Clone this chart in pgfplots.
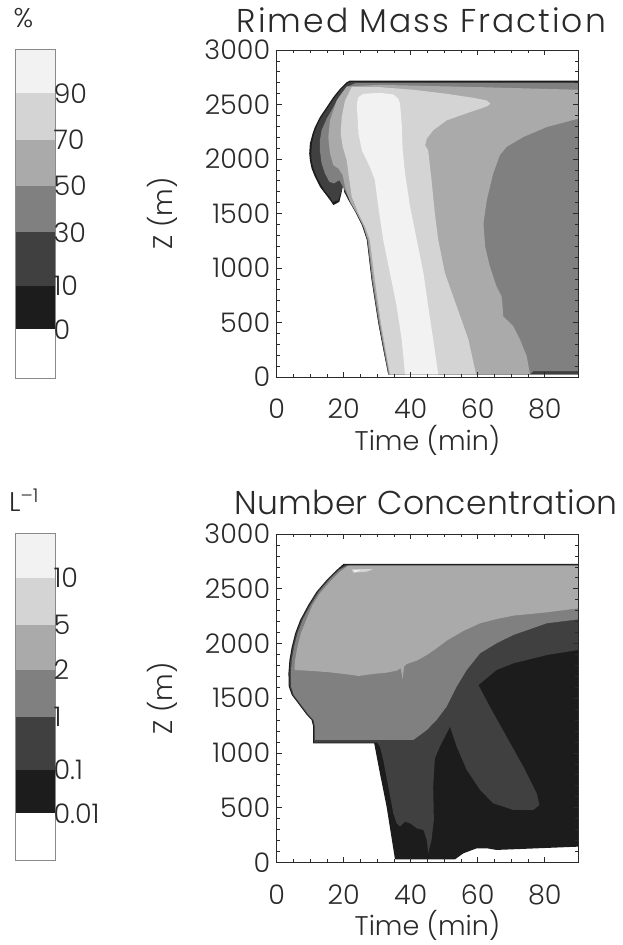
\documentclass[border=0pt]{standalone}
\usepackage{fontspec}
\setmainfont{Poppins}[UprightFont=* Light]
\newfontfamily\ttlA{Poppins}[UprightFont=* Light, LetterSpace=6.0]
\newfontfamily\ttlB{Poppins}[UprightFont=* Light, LetterSpace=1.0]
\usepackage{pgfplots}
\pgfplotsset{compat=1.18}
\definecolor{c0}{HTML}{1C1C1C}
\definecolor{c1}{HTML}{404040}
\definecolor{c2}{HTML}{808080}
\definecolor{c3}{HTML}{AAAAAA}
\definecolor{c4}{HTML}{D4D4D4}
\definecolor{c5}{HTML}{F2F2F2}
\definecolor{txt}{HTML}{2A2A2A}
\definecolor{frm}{HTML}{8A8A8A}
\pgfplotsset{
 mainax/.style={
  scale only axis, width=301.6pt,
  xmin=0,xmax=90,ymin=0,ymax=3000,
  xtick={0,20,...,80}, ytick={0,500,...,3000},
  minor x tick num=3, minor y tick num=4,
  tick align=inside, major tick length=5pt, minor tick length=3pt,
  axis line style={txt, line width=0.8pt},
  every tick/.style={txt, line width=0.6pt},
  tick label style={font=\fontsize{27}{27}\selectfont, text=txt},
  xticklabel style={anchor=base, yshift=-42pt},
  yticklabel style={xshift=-3pt},
  /pgf/number format/assume math mode=true,
  /pgf/number format/1000 sep={},
  xlabel={Time (min)}, ylabel={Z (m)},
  label style={font=\fontsize{27}{27}\selectfont, text=txt},
  ylabel style={at={(axis description cs:-0.378,0.5)}, anchor=center},
  title style={text=txt, anchor=base},
  axis on top, no markers,
 },
 cbar/.style={
  scale only axis, width=40pt, xmin=0, xmax=1,
  xtick=\empty, yticklabel pos=right, major tick length=0pt,
  axis line style={frm, line width=0.8pt},
  tick label style={font=\fontsize{27}{27}\selectfont, text=txt},
  yticklabel style={anchor=west, xshift=-5pt},
  axis on top, no markers,
 },
}
\begin{document}
\begin{tikzpicture}
\useasboundingbox (0,0) rectangle (622pt,945pt);
% ---------- top colorbar ----------
\begin{axis}[cbar, at={(15pt,566.7pt)}, anchor=south west, height=329pt,
  ymin=0, ymax=329, ytick={49,92.6,146,192.6,238.3,285},
  yticklabels={0,10,30,50,70,90}]
\addplot[fill=white, draw=none] coordinates {(0,0)(1,0)(1,49)(0,49)};
\addplot[fill=c0, draw=none] coordinates {(0,49)(1,49)(1,92.6)(0,92.6)};
\addplot[fill=c1, draw=none] coordinates {(0,92.6)(1,92.6)(1,146)(0,146)};
\addplot[fill=c2, draw=none] coordinates {(0,146)(1,146)(1,192.6)(0,192.6)};
\addplot[fill=c3, draw=none] coordinates {(0,192.6)(1,192.6)(1,238.3)(0,238.3)};
\addplot[fill=c4, draw=none] coordinates {(0,238.3)(1,238.3)(1,285)(0,285)};
\addplot[fill=c5, draw=none] coordinates {(0,285)(1,285)(1,329)(0,329)};
\end{axis}
\node[anchor=base west, font=\fontsize{27}{27}\selectfont, text=txt] at (10pt,917pt) {\%};
% ---------- top panel ----------
\begin{axis}[mainax, at={(276.7pt,568pt)}, anchor=south west, height=327pt,
  title={Rimed Mass Fraction},
  title style={font=\ttlA\fontsize{33}{33}\selectfont, at={(axis description cs:0.48,1)}, yshift=11pt},
  xlabel style={at={(axis description cs:0.5,-0.226)}, anchor=base}]
\addplot[fill=c0, draw=none] coordinates {(21.9,2720)(90,2720)(90,24)(33.3,24)(31.8,253)(30.3,496)(28.3,892)(26.9,1258)(25.4,1395)(23.4,1517)(21.4,1623)(20.1,1700)(19.9,1776)(19.2,1669)(18.7,1608)(17.9,1593)(16.9,1578)(15.9,1623)(14.4,1684)(12.9,1745)(11.4,1837)(10.4,1913)(9.9,1989)(9.7,2050)(9.9,2141)(10.7,2233)(11.4,2293)(12.9,2385)(14.9,2476)(16.9,2568)(18.9,2644)(20.9,2705)};
\addplot[fill=c1, draw=none] coordinates {(22.4,2705)(90,2705)(90,24)(33.3,24)(31.9,253)(30.4,496)(28.4,892)(27.0,1258)(25.6,1395)(23.6,1517)(21.6,1623)(20.3,1700)(19.9,1760)(19.0,1684)(18.3,1620)(17.4,1612)(16.7,1605)(15.9,1650)(14.6,1700)(13.3,1760)(12.0,1837)(11.0,1913)(10.4,1989)(10.3,2050)(10.5,2141)(11.2,2233)(11.9,2293)(13.4,2385)(15.4,2476)(17.4,2568)(19.4,2644)(21.4,2700)};
\addplot[fill=c2, draw=none] coordinates {(23.4,2695)(90,2695)(90,55)(76.6,55)(75.6,24)(33.4,24)(32.0,253)(30.5,496)(28.5,892)(27.1,1258)(25.8,1395)(23.8,1517)(21.8,1623)(20.6,1700)(20.0,1730)(18.7,1806)(17.1,1776)(15.7,1791)(14.4,1867)(13.4,1958)(12.9,2080)(12.9,2172)(13.4,2263)(14.9,2370)(16.9,2476)(18.9,2583)(20.9,2659)};
\addplot[fill=c3, draw=none] coordinates {(33.6,24)(32.2,253)(30.8,496)(28.8,892)(27.3,1258)(25.9,1380)(23.9,1502)(21.9,1608)(20.4,1745)(19.7,1852)(18.4,1913)(16.9,1943)(15.9,2050)(15.4,2202)(15.9,2354)(17.9,2537)(20.9,2665)(30.8,2680)(60.7,2659)(90,2635)(90,2370)(80.6,2293)(73.6,2202)(68.6,2111)(66.6,2035)(64.6,1867)(62.7,1623)(61.7,1410)(62.2,1197)(63.6,1014)(65.6,831)(67.1,740)(67.4,649)(67.6,557)(70.6,466)(72.6,344)(74.6,192)(75.6,24)};
\addplot[fill=c4, draw=none] coordinates {(33.8,24)(32.5,253)(31.1,496)(29.3,892)(27.8,1258)(26.4,1380)(24.4,1502)(22.4,1654)(21.4,1867)(20.9,1989)(19.7,2111)(19.1,2233)(19.4,2385)(20.4,2537)(22.4,2659)(30.8,2659)(40.8,2635)(50.7,2598)(58.7,2561)(62.7,2537)(63.8,2507)(62.7,2482)(57.7,2430)(50.7,2354)(46.7,2263)(44.8,2187)(44.3,2126)(45.2,2080)(46.2,1806)(47.2,1502)(48.2,1258)(50.2,953)(53.7,649)(57.2,344)(59.5,24)};
\addplot[fill=c5, draw=none] coordinates {(38.3,24)(37.3,344)(35.8,649)(33.8,953)(31.8,1258)(30.3,1562)(29.3,1806)(27.8,1928)(25.4,2080)(24.4,2233)(23.9,2507)(24.4,2568)(25.9,2598)(30.8,2607)(34.8,2592)(36.3,2552)(36.8,2507)(37.3,2324)(37.6,2080)(38.3,1867)(39.8,1562)(41.8,1258)(43.8,953)(45.2,649)(46.7,344)(48.2,24)};
\end{axis}
% ---------- bottom colorbar ----------
\begin{axis}[cbar, at={(15pt,85pt)}, anchor=south west, height=326.7pt,
  ymin=0, ymax=326.7, ytick={46.7,90,143.3,190,235,282.3},
  yticklabels={0.01,0.1,1,2,5,10}]
\addplot[fill=white, draw=none] coordinates {(0,0)(1,0)(1,46.7)(0,46.7)};
\addplot[fill=c0, draw=none] coordinates {(0,46.7)(1,46.7)(1,90)(0,90)};
\addplot[fill=c1, draw=none] coordinates {(0,90)(1,90)(1,143.3)(0,143.3)};
\addplot[fill=c2, draw=none] coordinates {(0,143.3)(1,143.3)(1,190)(0,190)};
\addplot[fill=c3, draw=none] coordinates {(0,190)(1,190)(1,235)(0,235)};
\addplot[fill=c4, draw=none] coordinates {(0,235)(1,235)(1,282.3)(0,282.3)};
\addplot[fill=c5, draw=none] coordinates {(0,282.3)(1,282.3)(1,326.7)(0,326.7)};
\end{axis}
\node[anchor=base west, font=\fontsize{27}{27}\selectfont, text=txt, inner sep=0pt] at (9pt,433pt) {L\textsuperscript{–1}};
% ---------- bottom panel ----------
\begin{axis}[mainax, at={(276.7pt,82.7pt)}, anchor=south west, height=328.3pt,
  title={Number Concentration},
  title style={font=\ttlB\fontsize{33}{33}\selectfont, at={(axis description cs:0.495,1)}, yshift=13pt},
  xlabel style={at={(axis description cs:0.5,-0.222)}, anchor=base}]
\addplot[fill=c0, draw=none] coordinates {(19.9,2726)(90,2726)(90,143)(70.6,119)(65.6,113)(62.7,128)(59.7,128)(55.7,82)(53.2,27)(35.3,27)(32.8,508)(30.8,813)(29.1,1087)(10.9,1087)(10.9,1240)(10.4,1300)(9.0,1346)(7.5,1407)(6.0,1468)(4.5,1529)(3.6,1605)(3.5,1727)(3.8,1849)(4.5,1971)(5.5,2092)(7.0,2214)(9.4,2351)(11.9,2473)(14.9,2580)(17.9,2671)};
\addplot[fill=c1, draw=none] coordinates {(20.4,2717)(90,2717)(90,1940)(80.6,1894)(70.6,1818)(65.6,1757)(60.2,1620)(63.6,1422)(68.6,1148)(73.6,874)(77.6,630)(78.4,524)(76.6,478)(70.6,478)(64.6,539)(60.7,661)(56.7,844)(53.7,1057)(51.7,1240)(50.2,1148)(48.7,1057)(47.2,950)(46.7,691)(46.9,387)(46.2,204)(45.2,82)(44.8,204)(43.8,295)(41.8,311)(39.8,356)(38.3,372)(36.8,326)(35.8,356)(34.8,448)(33.3,691)(31.8,935)(30.8,1057)(30.0,1093)(11.2,1093)(11.2,1240)(10.7,1300)(9.3,1346)(7.8,1407)(6.3,1468)(4.8,1529)(3.9,1605)(3.8,1727)(4.1,1849)(4.8,1971)(5.8,2092)(7.3,2214)(9.7,2351)(12.2,2473)(15.2,2580)(18.2,2671)};
\addplot[fill=c2, draw=none] coordinates {(20.9,2711)(90,2711)(90,2220)(80.6,2184)(70.6,2077)(65.6,2001)(60.7,1910)(56.7,1757)(53.7,1605)(50.7,1422)(47.7,1300)(44.8,1209)(40.8,1118)(11.4,1118)(11.4,1240)(11.0,1300)(9.6,1346)(8.1,1407)(6.6,1468)(5.1,1529)(4.3,1605)(4.2,1727)(4.5,1849)(5.2,1971)(6.2,2092)(7.7,2214)(10.1,2351)(12.6,2473)(15.6,2580)(18.6,2671)};
\addplot[fill=c3, draw=none] coordinates {(21.4,2711)(90,2711)(90,2321)(80.6,2284)(70.6,2254)(65.6,2223)(60.7,2184)(55.7,2114)(50.7,2025)(47.7,1955)(44.8,1894)(41.8,1843)(38.8,1812)(38.0,1788)(37.6,1672)(37.0,1773)(35.8,1751)(32.8,1733)(28.8,1721)(24.4,1703)(20.9,1718)(15.9,1736)(10.9,1748)(5.5,1757)(5.3,1773)(5.5,1849)(6.2,1971)(7.2,2092)(8.8,2214)(10.7,2351)(12.9,2458)(15.9,2564)(18.9,2656)};
\addplot[fill=c4, draw=none] coordinates {(22.4,2677)(28.8,2680)(26.9,2656)(22.9,2647)};
\addplot[fill=c5, draw=none] coordinates {(22.9,2671)(24.9,2671)(23.4,2650)};
\end{axis}
\end{tikzpicture}
\end{document}
